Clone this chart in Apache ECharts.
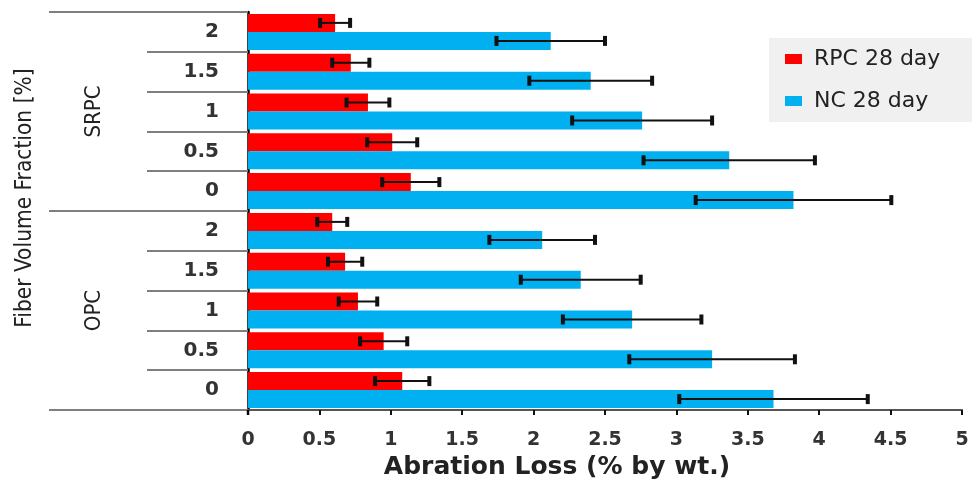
<!DOCTYPE html>
<html>
<head>
<meta charset="utf-8">
<script src="https://cdn.jsdelivr.net/npm/echarts@6/dist/echarts.min.js"></script>
<style>
html,body{margin:0;padding:0;background:#fff;}
#chart{width:972px;height:486px;}
</style>
</head>
<body>
<div id="chart"></div>
<script>
// ---- data (top to bottom) ----
const groups = ['SRPC', 'OPC'];
const fractions = ['2', '1.5', '1', '0.5', '0'];
const seriesNames = ['RPC 28 day', 'NC 28 day'];
const rpcValues = [0.61, 0.72, 0.84, 1.01, 1.14, 0.59, 0.68, 0.77, 0.95, 1.08];
const rpcErrors = [0.105, 0.13, 0.15, 0.175, 0.20, 0.105, 0.12, 0.135, 0.165, 0.19];
const ncValues = [2.12, 2.40, 2.76, 3.37, 3.82, 2.06, 2.33, 2.69, 3.25, 3.68];
const ncErrors = [0.38, 0.43, 0.49, 0.60, 0.685, 0.37, 0.42, 0.485, 0.58, 0.66];
const xTicks = [0, 0.5, 1, 1.5, 2, 2.5, 3, 3.5, 4, 4.5, 5];

// ---- build ----
const categories = [];
groups.forEach(g => fractions.forEach(f => categories.push(g + '|' + f)));

const BAR_W = 18;
const RED = '#FF0000', BLUE = '#00B0F0';
const NARROW = "'Liberation Sans Narrow', 'DejaVu Sans Condensed', 'Noto Sans', sans-serif";
const WIDE = "'DejaVu Sans', Verdana, sans-serif";

function errData(vals, errs) {
  return vals.map((v, i) => [v, i, errs[i]]);
}

function errRender(offsetSign) {
  return function (params, api) {
    const v = api.value(0), cat = api.value(1), e = api.value(2);
    const lo = api.coord([v - e, cat]);
    const hi = api.coord([v + e, cat]);
    const y = lo[1] + offsetSign * BAR_W / 2;
    return {
      type: 'group',
      children: [
        {type: 'line', shape: {x1: lo[0], y1: y, x2: hi[0], y2: y}, style: {stroke: '#111', lineWidth: 2}},
        {type: 'rect', shape: {x: lo[0] - 2, y: y - 5, width: 4, height: 10}, style: {fill: '#111'}},
        {type: 'rect', shape: {x: hi[0] - 2, y: y - 5, width: 4, height: 10}, style: {fill: '#111'}}
      ]
    };
  };
}

const chart = echarts.init(document.getElementById('chart'));
const option = {
  animation: false,
  backgroundColor: '#fff',
  grid: {left: 248, right: 10, top: 12, bottom: 76, containLabel: false, outerBoundsMode: 'none'},
  legend: {
    data: seriesNames,
    orient: 'vertical',
    left: 785, top: 48,
    padding: 0,
    itemWidth: 17, itemHeight: 10, itemGap: 20,
    icon: 'rect',
    textStyle: {fontFamily: WIDE, fontSize: 22, color: '#222', lineHeight: 22, padding: [0, 0, 0, 7]}
  },
  xAxis: {
    type: 'value', min: 0, max: 5, interval: 0.5,
    name: 'Abration Loss (% by wt.)',
    nameLocation: 'middle', nameGap: 43,
    nameTextStyle: {fontFamily: WIDE, fontSize: 25, fontWeight: 'bold', color: '#222', padding: [0, 96, 0, 0]},
    axisLine: {show: true, lineStyle: {color: '#555', width: 2}},
    axisTick: {show: true, length: 5, lineStyle: {color: '#111', width: 2}},
    axisLabel: {
      fontFamily: WIDE, fontSize: 19, fontWeight: 'bold', color: '#333', margin: 21,
      formatter: v => (xTicks.indexOf(v) >= 0 ? String(v) : '')
    },
    splitLine: {show: false}
  },
  yAxis: {
    type: 'category', inverse: true, data: categories,
    name: 'Fiber Volume Fraction [%]',
    nameLocation: 'middle', nameRotate: 90, nameGap: 211,
    nameTextStyle: {fontFamily: NARROW, fontSize: 22.5, color: '#222', padding: [0, 0, 0, 26]},
    axisLine: {show: true, lineStyle: {color: '#000', width: 2.5}},
    axisTick: {show: true, length: 101, lineStyle: {color: '#7f7f7f', width: 2}},
    axisLabel: {
      fontFamily: WIDE, fontSize: 20, fontWeight: 'bold', color: '#333', margin: 29,
      formatter: v => v.split('|')[1]
    },
    splitLine: {show: false}
  },
  series: [
    {name: seriesNames[0], type: 'bar', data: rpcValues, barWidth: BAR_W, barGap: '0%', itemStyle: {color: RED}, z: 2},
    {name: seriesNames[1], type: 'bar', data: ncValues, barWidth: BAR_W, barGap: '0%', itemStyle: {color: BLUE}, z: 2},
    {name: 'RPC err', type: 'custom', data: errData(rpcValues, rpcErrors), renderItem: errRender(-1), z: 5,
      encode: {x: 0, y: 1}},
    {name: 'NC err', type: 'custom', data: errData(ncValues, ncErrors), renderItem: errRender(1), z: 5,
      encode: {x: 0, y: 1}}
  ]
};
chart.setOption(option);

// group separators and labels, placed from the category axis
const c0 = chart.convertToPixel({yAxisIndex: 0}, categories[0]);
const cN = chart.convertToPixel({yAxisIndex: 0}, categories[categories.length - 1]);
const band = (cN - c0) / (categories.length - 1);
const axisX = chart.convertToPixel({xAxisIndex: 0}, 0);
const graphics = [
  {type: 'rect', left: 769, top: 38, shape: {width: 203, height: 84}, style: {fill: '#f0f0f0'}, z: -1, silent: true}
];
const per = fractions.length;
for (let g = 0; g <= groups.length; g++) {
  const y = c0 - band / 2 + g * per * band;
  graphics.push({type: 'line', shape: {x1: 49, y1: y, x2: axisX, y2: y}, style: {stroke: '#7f7f7f', lineWidth: 2}, z: 10});
}
groups.forEach((name, g) => {
  const yc = c0 - band / 2 + (g + 0.5) * per * band;
  graphics.push({
    type: 'text', x: 94, y: yc, rotation: Math.PI / 2,
    style: {text: name, font: '22px ' + NARROW, fill: '#222', align: 'center', verticalAlign: 'middle'}, z: 10
  });
});
// small extension of the vertical axis below the value axis
const yBottom = c0 - band / 2 + categories.length * band;
graphics.push({type: 'line', shape: {x1: axisX, y1: yBottom, x2: axisX, y2: yBottom + 5}, style: {stroke: '#000', lineWidth: 2.5}, z: 10});
chart.setOption({graphic: graphics});
</script>
</body>
</html>
